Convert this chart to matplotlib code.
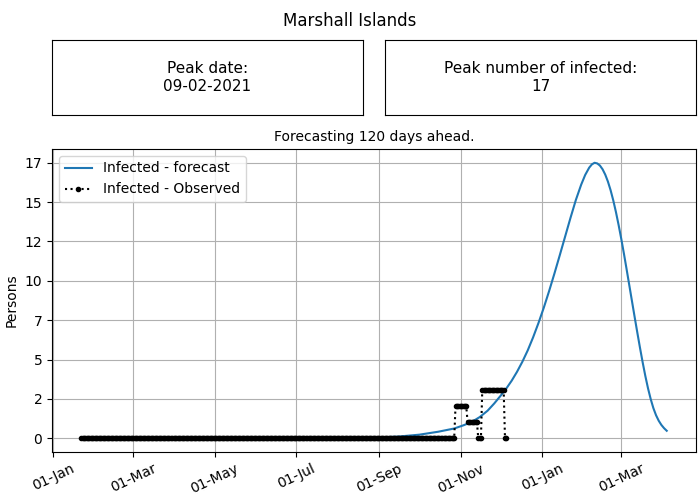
import matplotlib
matplotlib.use("Agg")
import matplotlib.pyplot as plt
import matplotlib.dates as mdates
import numpy as np
import pandas as pd

country = "Marshall Islands"
peak_date_text = "09-02-2021"
peak_value_text = "17"
horizon_text = "Forecasting 120 days ahead."

# Observed data as runs of constant daily values
obs_run_starts = ["2020-01-22", "2020-10-28", "2020-11-06", "2020-11-14", "2020-11-17", "2020-12-04"]
obs_run_values = [0, 2, 1, 0, 3, 0]
obs_last_day = "2020-12-05"

# Forecast values
fc_dates = ["2020-01-22", "2020-04-01", "2020-06-01", "2020-08-01", "2020-09-01", "2020-09-15",
            "2020-10-01", "2020-10-15", "2020-10-27", "2020-11-03", "2020-11-09", "2020-11-15",
            "2020-11-21", "2020-11-26", "2020-12-01", "2020-12-05", "2020-12-09", "2020-12-13",
            "2020-12-17", "2020-12-21", "2020-12-25", "2020-12-29", "2021-01-02", "2021-01-06",
            "2021-01-10", "2021-01-14", "2021-01-18", "2021-01-22", "2021-01-26", "2021-01-30",
            "2021-02-02", "2021-02-05", "2021-02-07", "2021-02-09", "2021-02-11", "2021-02-13",
            "2021-02-15", "2021-02-17", "2021-02-19", "2021-02-21", "2021-02-23", "2021-02-25",
            "2021-02-27", "2021-03-01", "2021-03-03", "2021-03-05", "2021-03-07", "2021-03-09",
            "2021-03-11", "2021-03-13", "2021-03-15", "2021-03-17", "2021-03-19", "2021-03-21",
            "2021-03-23", "2021-03-25", "2021-03-27", "2021-03-29", "2021-03-31", "2021-04-02",
            "2021-04-04"]
fc_values = [0.0, 0.0, 0.0, 0.01, 0.05, 0.1,
             0.22, 0.4, 0.6, 0.8, 1.0, 1.3,
             1.7, 2.15, 2.65, 3.07, 3.55, 4.1,
             4.72, 5.42, 6.22, 7.1, 8.05, 9.08,
             10.17, 11.3, 12.45, 13.6, 14.7, 15.65,
             16.25, 16.7, 16.9, 17.0, 16.96, 16.83,
             16.6, 16.27, 15.84, 15.31, 14.68, 13.96,
             13.16, 12.3, 11.38, 10.42, 9.44, 8.46,
             7.48, 6.52, 5.58, 4.68, 3.84, 3.08,
             2.42, 1.86, 1.42, 1.08, 0.82, 0.62,
             0.46]

# expand observed runs into daily series
obs_dates = pd.date_range(obs_run_starts[0], obs_last_day, freq="D")
obs_series = pd.Series(np.nan, index=obs_dates)
for s, v in zip(obs_run_starts, obs_run_values):
    obs_series.loc[pd.Timestamp(s):] = v

fig = plt.figure(figsize=(7, 5), dpi=100)
fig.suptitle(country, fontsize=12, y=0.975)

ax1 = fig.add_axes([52/700, 1-115/500, 311/700, 75/500])
ax1.set_xticks([]); ax1.set_yticks([])
ax1.text(0.5, 0.5, "Peak date:\n" + peak_date_text, ha="center", va="center", fontsize=11,
         transform=ax1.transAxes)
ax2 = fig.add_axes([385/700, 1-115/500, 311/700, 75/500])
ax2.set_xticks([]); ax2.set_yticks([])
ax2.text(0.5, 0.5, "Peak number of infected:\n" + peak_value_text, ha="center", va="center",
         fontsize=11, transform=ax2.transAxes)

ax = fig.add_axes([52/700, 1-452/500, 644/700, 303/500])
ax.plot(pd.to_datetime(fc_dates), fc_values, color="#1f77b4", label="Infected - forecast", zorder=2)
ax.plot(obs_series.index, obs_series.values, ":", marker=".", color="black",
        label="Infected - Observed", zorder=3)
ax.set_title(horizon_text, fontsize=10)
ax.set_ylabel("Persons")
ymax = max(fc_values)
yt = np.linspace(0, ymax, 8)
ax.set_yticks(yt)
ax.set_yticklabels([f"{v:.0f}" for v in yt])
ax.xaxis.set_major_locator(mdates.MonthLocator(bymonth=[1, 3, 5, 7, 9, 11]))
ax.xaxis.set_major_formatter(mdates.DateFormatter("%d-%b"))
for lab in ax.get_xticklabels():
    lab.set_rotation(25)
ax.grid(True)
ax.legend(loc="upper left")
fig.savefig("out.png", dpi=100)
